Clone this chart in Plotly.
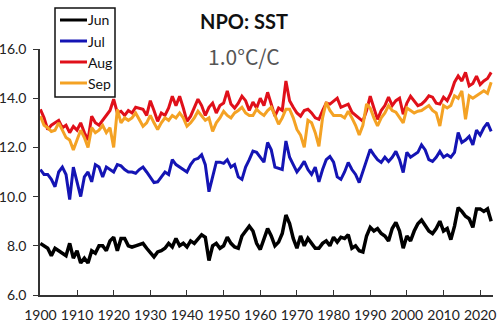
import plotly.graph_objects as go

years = list(range(1900, 2024))

jun = [8.1, 8.0, 7.9, 7.6, 7.9, 7.8, 7.7, 7.6, 8.1, 7.5,
       7.8, 7.3, 7.5, 7.3, 7.8, 7.7, 8.0, 8.0, 7.8, 8.2,
       8.35, 7.8, 8.3, 8.3, 8.0, 7.95, 8.0, 8.05, 8.1, 7.9,
       7.75, 7.55, 7.75, 7.8, 7.9, 8.1, 7.95, 8.3, 8.0, 8.1,
       7.95, 8.2, 8.1, 8.3, 8.45, 8.35, 7.4, 8.0, 8.1, 7.9,
       8.0, 8.35, 8.1, 7.95, 7.9, 8.4, 8.6, 8.8, 8.6, 8.1,
       7.85, 8.3, 8.7, 8.4, 8.0, 8.15, 8.5, 9.25, 8.9, 8.3,
       7.9, 8.4, 8.0, 8.3, 8.1, 7.9, 7.9, 8.1, 8.2, 8.0,
       8.35, 8.15, 8.35, 8.3, 8.45, 7.9, 8.0, 7.8, 7.75, 8.4,
       8.75, 8.6, 8.7, 8.5, 8.4, 8.2, 8.7, 8.95, 8.6, 7.9,
       8.4, 8.2, 8.6, 8.9, 9.05, 8.8, 8.6, 8.5, 8.7, 9.0,
       8.6, 8.7, 8.25, 8.8, 9.55, 9.4, 9.2, 9.1, 8.75, 9.5,
       9.5, 9.4, 9.5, 9.0]

jul = [11.1, 10.9, 10.9, 10.7, 10.4, 11.0, 11.2, 10.9, 9.88, 11.2,
       10.6, 10.0, 10.8, 11.0, 10.6, 11.3, 11.2, 10.8, 11.2, 11.1,
       11.0, 11.3, 11.25, 11.1, 11.0, 11.0, 10.95, 11.1, 11.2, 11.0,
       10.8, 10.57, 10.6, 10.8, 11.0, 10.9, 11.5, 11.3, 11.2, 11.1,
       11.0, 11.3, 11.5, 11.55, 11.7, 11.3, 10.2, 10.8, 11.4, 11.4,
       11.35, 11.5, 11.2, 11.3, 10.8, 10.7, 11.2, 11.5, 11.85, 11.8,
       11.6, 11.4, 12.2, 11.9, 11.2, 11.15, 11.1, 12.26, 11.6, 11.3,
       11.0, 11.2, 11.43, 11.1, 10.9, 11.2, 10.6, 11.1, 11.5, 11.63,
       11.4, 10.8, 10.7, 11.0, 11.39, 11.1, 10.9, 10.57, 11.0, 11.4,
       11.92, 11.7, 11.5, 11.39, 11.6, 11.43, 11.6, 11.84, 11.5, 10.98,
       11.8, 11.6, 11.7, 11.8, 12.1, 11.9, 11.5, 11.43, 11.6, 11.84,
       11.6, 11.7, 11.6, 11.8, 12.6, 12.2, 12.3, 12.45, 12.1, 12.7,
       12.5, 12.8, 13.0, 12.65]

aug = [13.55, 13.2, 12.73, 12.9, 13.0, 13.1, 12.8, 12.9, 12.6, 12.85,
       12.7, 13.0, 12.6, 12.3, 13.27, 13.0, 12.9, 13.1, 13.3, 13.5,
       13.96, 13.4, 13.47, 13.3, 13.5, 13.4, 13.63, 13.6, 13.55, 13.3,
       13.9, 13.5, 13.06, 13.4, 13.3, 13.6, 14.08, 13.7, 14.08, 13.6,
       13.06, 13.27, 13.6, 13.96, 13.7, 13.3, 13.63, 13.8, 13.4, 13.7,
       13.8, 14.3, 13.76, 13.6, 13.8, 14.08, 13.9, 13.5, 13.84, 13.6,
       14.0, 13.7, 14.24, 13.8, 13.27, 13.6, 13.5, 14.7, 13.9, 13.63,
       13.4, 13.27, 13.5, 13.55, 13.4, 13.2, 13.14, 13.5, 13.8, 13.76,
       13.9, 14.0, 13.63, 13.7, 13.76, 13.43, 13.3, 13.2, 13.06, 13.5,
       14.08, 13.6, 13.14, 13.5, 13.7, 14.04, 13.7, 13.9, 14.0, 13.35,
       13.8, 14.08, 13.9, 13.7, 13.76, 13.9, 14.1, 14.04, 13.8, 13.76,
       14.04, 13.9, 14.2, 14.65, 14.9, 14.7, 15.05, 14.5, 14.6, 14.9,
       14.55, 14.7, 14.8, 15.05]

sep = [13.27, 12.9, 12.8, 12.65, 12.7, 13.0, 12.7, 12.4, 12.3, 11.9,
       12.3, 12.7, 12.4, 12.0, 12.8, 12.6, 12.7, 12.9, 12.6, 12.8,
       12.0, 13.55, 13.0, 13.2, 13.1, 13.2, 13.4, 13.1, 12.86, 13.0,
       13.3, 13.0, 12.73, 13.0, 13.2, 13.1, 13.3, 13.2, 13.4, 13.2,
       12.86, 13.0, 13.2, 13.47, 13.3, 13.1, 13.2, 12.65, 13.0, 13.2,
       13.47, 13.3, 13.2, 13.4, 13.5, 13.63, 13.4, 13.3, 13.3, 13.55,
       13.4, 13.3, 13.5, 13.63, 13.3, 12.94, 13.2, 13.55, 13.55, 13.2,
       12.73, 12.5, 12.0, 13.1, 13.0, 12.6, 12.04, 13.2, 13.84, 13.5,
       13.3, 13.3, 13.3, 13.2, 13.47, 13.2, 12.9, 12.5, 12.9, 13.76,
       13.6, 13.2, 12.87, 13.2, 13.4, 13.7, 13.5, 13.43, 13.2, 13.0,
       13.6, 13.5, 13.4, 13.47, 13.5, 13.6, 13.7, 13.5, 13.4, 12.87,
       13.7, 13.6, 13.7, 14.1, 14.0, 14.3, 13.14, 14.1, 14.0, 14.1,
       14.2, 14.3, 14.2, 14.65]

series_names = ["Jun", "Jul", "Aug", "Sep"]
series_values = [jun, jul, aug, sep]
series_colors = ["#000000", "#1414b4", "#e0101a", "#f4a224"]
series_widths = [3.5, 3, 3, 3]

x_tick_vals = list(range(1900, 2030, 10))
x_tick_text = [str(v) for v in x_tick_vals]
y_tick_vals = [6, 8, 10, 12, 14, 16]
y_tick_text = ["6.0", "8.0", "10.0", "12.0", "14.0", "16.0"]

title_text = "NPO: SST"
subtitle_text = "1.0°C/C"

LBL = "Lato, sans-serif"

L, R, T, B = 40, 7, 49, 29
W, H = 500, 324
pw = W - L - R
ph = H - T - B


def px_x(px):
    return (px - L) / pw


def px_y(py):
    return (H - B - py) / ph


fig = go.Figure()
for name, vals, col, w in zip(series_names, series_values, series_colors, series_widths):
    fig.add_trace(go.Scatter(x=years, y=vals, mode="lines", name=name,
                             line=dict(color=col, width=w), showlegend=False))

# hand-built legend box (the native one cannot be made this compact)
shapes = [dict(type="rect", xref="paper", yref="paper",
               x0=px_x(55), x1=px_x(115), y0=px_y(97), y1=px_y(8),
               line=dict(color="#111", width=1.5), fillcolor="white", layer="above")]
annotations = []
for i, (name, col) in enumerate(zip(series_names, series_colors)):
    yy = 20 + i * 21
    shapes.append(dict(type="line", xref="paper", yref="paper",
                       x0=px_x(60), x1=px_x(87), y0=px_y(yy), y1=px_y(yy),
                       line=dict(color=col, width=3), layer="above"))
    annotations.append(dict(text=name, x=px_x(86), y=px_y(yy), xref="paper", yref="paper",
                            xanchor="left", yanchor="middle", showarrow=False,
                            font=dict(family=LBL, size=14, color="#111")))

annotations += [
    dict(text="<b>" + title_text + "</b>", x=px_x(244), y=px_y(21), xref="paper", yref="paper",
         xanchor="center", yanchor="middle",
         showarrow=False, font=dict(family=LBL, size=20, color="#111")),
    dict(text=subtitle_text, x=px_x(244), y=px_y(56), xref="paper", yref="paper",
         xanchor="center", yanchor="middle",
         showarrow=False, font=dict(family="Noto Sans CJK JP, sans-serif", size=21, color="#555")),
]

fig.update_layout(
    width=W, height=H,
    margin=dict(l=L, r=R, t=T, b=B, autoexpand=False),
    plot_bgcolor="white", paper_bgcolor="white",
    showlegend=False,
    xaxis=dict(range=[1899.9, 2023.5], showline=True, linecolor="#333", linewidth=1.5,
               ticks="inside", ticklen=5, tickcolor="#333", tickwidth=1,
               tickvals=x_tick_vals, ticktext=x_tick_text, showgrid=False, zeroline=False,
               ticklabelstandoff=6, automargin=False,
               tickfont=dict(family=LBL, size=14, color="#222")),
    yaxis=dict(range=[6, 16], showline=True, linecolor="#333", linewidth=1.5,
               ticks="outside", ticklen=5, tickcolor="#333", tickwidth=1,
               tickvals=y_tick_vals, ticktext=y_tick_text, showgrid=False, zeroline=False,
               ticklabelstandoff=4, automargin=False,
               tickfont=dict(family=LBL, size=14, color="#222")),
    shapes=shapes,
    annotations=annotations,
)

fig.write_html("out.html")
